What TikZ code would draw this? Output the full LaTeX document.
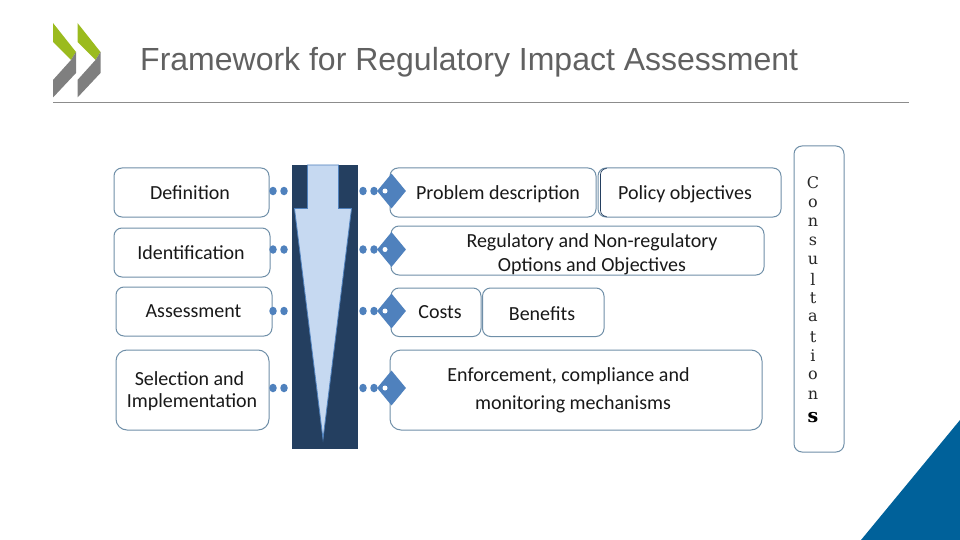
\documentclass[tikz,border=0pt]{standalone}
\usepackage{fontspec}
\setmainfont{Carlito}
\newfontfamily\titlefont{Liberation Sans}
\newfontfamily\vertfont{DejaVu Serif}
\definecolor{navy}{HTML}{243F60}
\definecolor{pale}{HTML}{C6D9F1}
\definecolor{midblue}{HTML}{4F81BD}
\definecolor{edgeblue}{HTML}{6F8FA8}
\definecolor{oecdblue}{HTML}{00619A}
\definecolor{oecdgreen}{HTML}{9BBB1E}
\definecolor{oecdgrey}{HTML}{7F7F7F}
\tikzset{
  rbox/.style={draw=edgeblue,line width=1pt,fill=white,rounded corners=8pt},
  lbl/.style={font=\fontsize{20}{24}\selectfont,text=black!90,align=center,inner sep=0pt},
  dotmark/.style={fill=midblue,draw=none,ellipse,minimum width=7.5pt,minimum height=8.5pt,inner sep=0pt},
  diamondmark/.style={fill=midblue,draw=none,diamond,minimum width=29pt,minimum height=35pt,inner sep=0pt},
  holemark/.style={fill=white,draw=none,circle,minimum size=5pt,inner sep=0pt}
}
\usetikzlibrary{shapes.geometric}
\begin{document}
\begin{tikzpicture}[x=1pt,y=-1pt]
\useasboundingbox (0,0) rectangle (960,540);
% corner triangle
\fill[oecdblue] (960,420) -- (960,540) -- (861,540) -- cycle;
% logo
\foreach \d in {0,24.5}{
  \fill[oecdgreen] (53+\d,23) -- (76+\d,52) -- (71+\d,60) -- (53+\d,42) -- cycle;
  \fill[oecdgrey] (76+\d,52) -- (76+\d,73) -- (53+\d,97.5) -- (53+\d,80) -- (71+\d,60) -- cycle;
}
\draw[color=black!45,line width=0.9pt] (53,102) -- (909,102);
\node[anchor=base west,inner sep=0pt,font=\titlefont\fontsize{32}{36}\selectfont,text=black!62] (title) at (140,71) {Framework for Regulatory Impact Assessment};
% left boxes
\draw[rbox] (114,168) rectangle (269,217);
\draw[rbox] (114,228) rectangle (270,277);
\draw[rbox] (116,287) rectangle (272,336);
\draw[rbox,rounded corners=11pt] (116,350) rectangle (269,430);
\node[lbl] (def) at (190,193) {Definition};
\node[lbl] (ident) at (191,253) {Identification};
\node[lbl] (assess) at (193.500,311.500) {Assessment};
\node[lbl] (sel) at (189.500,378.500) {Selection and};
\node[lbl] (imp) at (192,402.500) {Implementation};
% central arrow
\fill[navy] (292,165) rectangle (358,449);
\draw[fill=pale,draw=midblue,line width=0.8pt,line join=miter]
  (307.5,165) -- (338.500,165) -- (338.500,208.500) -- (351.500,208.500) -- (323,439) -- (294.500,208.500) -- (307.500,208.500) -- cycle;
% right boxes
\draw[rbox] (390,168) rectangle (596,217);
\draw[rbox] (598,168) rectangle (781,217);
\draw[color=navy,line width=0.7pt,rounded corners=6pt] (606,168.500) -- (600.500,168.500) -- (600.500,216.500) -- (606,216.500);
\draw[rbox] (391,226) rectangle (764,275);
\draw[rbox] (391,288) rectangle (481,336.500);
\draw[rbox] (482.500,288) rectangle (604,336.500);
\draw[rbox,rounded corners=11pt] (390,350) rectangle (762,430);
\draw[rbox] (794,146) rectangle (844,452);
\node[lbl] (prob) at (498,194) {Problem description};
\node[lbl] (pol) at (685,194) {Policy objectives};
\node[lbl] (reg) at (592,254) {Regulatory and Non-regulatory\\Options and Objectives};
\node[lbl] (costs) at (440,312.500) {Costs};
\node[lbl] (ben) at (542,313.500) {Benefits};
\node[lbl] (enf) at (568.500,376) {Enforcement, compliance and};
\node[lbl] (mon) at (573,404) {monitoring mechanisms};
% dots and diamonds
\foreach \n/\y in {a/191,b/249.500,c/311,d/388}{
  \node[dotmark] (l1\n) at (273,\y) {};
  \node[dotmark] (l2\n) at (284,\y) {};
  \node[dotmark] (r1\n) at (363,\y) {};
  \node[dotmark] (r2\n) at (374,\y) {};
  \node[diamondmark] (dm\n) at (391.500,\y) {};
  \node[holemark] (h\n) at (385,\y) {};
}
% vertical word
\foreach \c/\y in {C/183,o/203,n/222,s/241,u/260,l/279,t/298,a/317,t/337,i/356,o/375,n/395}{
  \node[font=\vertfont\fontsize{16}{16}\selectfont,text=black!85,inner sep=0pt] (v\y) at (813,\y) {\c};
}
\node[font=\vertfont\bfseries\fontsize{19}{19}\selectfont,text=black,inner sep=0pt] (vs) at (813,418) {s};
\end{tikzpicture}
\end{document}
